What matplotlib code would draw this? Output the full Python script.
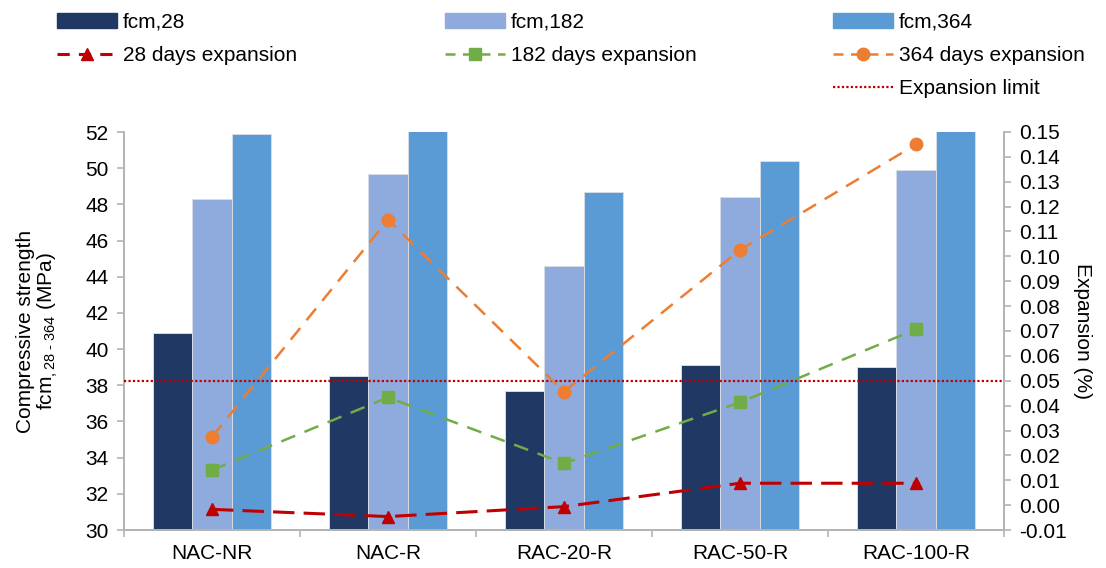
import matplotlib
matplotlib.use('Agg')
import matplotlib.pyplot as plt
from matplotlib.lines import Line2D
from matplotlib.patches import Patch
import numpy as np

plt.rcParams['font.family'] = ['Liberation Sans', 'DejaVu Sans']
plt.rcParams['mathtext.fontset'] = 'custom'
plt.rcParams['mathtext.rm'] = 'Liberation Sans'
plt.rcParams['mathtext.it'] = 'Liberation Sans'

# ---------------------------------------------------------------- data
mixes = ['NAC-NR', 'NAC-R', 'RAC-20-R', 'RAC-50-R', 'RAC-100-R']
fcm_28 = [40.9, 38.5, 37.7, 39.1, 39.0]
fcm_182 = [48.3, 49.7, 44.6, 48.4, 49.9]
fcm_364 = [51.9, 52.4, 48.7, 50.4, 52.6]
exp_28 = [-0.0017, -0.0046, -0.0006, 0.0088, 0.0088]
exp_182 = [0.0141, 0.0433, 0.0168, 0.0413, 0.0707]
exp_364 = [0.0275, 0.1147, 0.0456, 0.1026, 0.145]
exp_limit = 0.05

C28, C182, C364 = '#203864', '#8FAADC', '#5B9BD5'
CR, CG, CO = '#C00000', '#70AD47', '#ED7D31'
AXC = '#B4B4B4'
FS = 15

fig = plt.figure(figsize=(11.06, 5.68), dpi=100)
ax = fig.add_axes([124/1106, 1-530/568, 880/1106, 398/568])
ax2 = ax.twinx()

x = np.arange(len(mixes))
w = 0.222
ax.bar(x - w, fcm_28, w, color=C28, edgecolor='#D6DCE5', lw=0.7, zorder=2)
ax.bar(x, fcm_182, w, color=C182, edgecolor='#D6DCE5', lw=0.7, zorder=2)
ax.bar(x + w, fcm_364, w, color=C364, edgecolor='#D6DCE5', lw=0.7, zorder=2)

ax.set_ylim(30, 52)
ax.set_xlim(-0.5, len(mixes) - 0.5)
ax.set_yticks(np.arange(30, 53, 2))
ax.set_xticks(x)
ax.set_xticklabels(mixes)
ax.set_xticks(np.arange(-0.5, len(mixes)), minor=True)
ax.tick_params(axis='x', which='major', length=0, labelsize=FS, pad=10)
ax.tick_params(axis='x', which='minor', length=5, color=AXC, width=1.2)
ax.tick_params(axis='y', length=5, color=AXC, width=1.2, labelsize=FS, pad=6)
ax.set_ylabel('Compressive strength\nfcm$_{,28\\ \\text{-}\\ 364}$ (MPa)', fontsize=FS,
              labelpad=18, linespacing=1.05)

# expansion lines on right axis
ax2.axhline(exp_limit, color=CR, ls=(0, (1, 1)), lw=1.6, zorder=3)
ax2.plot(x, exp_28, color=CR, lw=2.2, dashes=(7, 3), marker='^', ms=9, zorder=4)
ax2.plot(x, exp_182, color=CG, lw=1.8, dashes=(6, 4), marker='s', ms=9, zorder=4)
ax2.plot(x, exp_364, color=CO, lw=1.8, dashes=(6, 4), marker='o', ms=9, zorder=4)
ax2.set_ylim(-0.01, 0.15)
ax2.set_yticks(np.arange(-0.01, 0.151, 0.01))
ax2.set_yticklabels([f'{v:.2f}' for v in np.arange(-0.01, 0.151, 0.01)])
ax2.tick_params(axis='y', length=5, color=AXC, width=1.2, labelsize=FS, pad=6)
ax2.set_ylabel('Expansion (%)', fontsize=FS, rotation=270, labelpad=18)

for a in (ax, ax2):
    a.spines['top'].set_visible(False)
    for s in ('left', 'right', 'bottom'):
        a.spines[s].set_color(AXC)
        a.spines[s].set_linewidth(1.3)

# legend: three columns placed by hand
h_28 = Patch(color=C28)
h_182 = Patch(color=C182)
h_364 = Patch(color=C364)
l_28 = Line2D([], [], color=CR, lw=2.2, dashes=(4, 3), marker='^', ms=9)
l_182 = Line2D([], [], color=CG, lw=1.8, dashes=(4, 3), marker='s', ms=9)
l_364 = Line2D([], [], color=CO, lw=1.8, dashes=(4, 3), marker='o', ms=9)
l_lim = Line2D([], [], color=CR, ls=(0, (1, 1)), lw=1.6)

cols = [
    (57, [h_28, l_28], ['fcm,28', '28 days expansion']),
    (445, [h_182, l_182], ['fcm,182', '182 days expansion']),
    (833, [h_364, l_364, l_lim], ['fcm,364', '364 days expansion', 'Expansion limit']),
]
for xpx, hs, ls in cols:
    fig.legend(hs, ls, loc='upper left', bbox_to_anchor=(xpx/1106, 1 - 13/568),
               frameon=False, fontsize=FS, borderpad=0, borderaxespad=0,
               handlelength=2.9, handleheight=0.7, handletextpad=0.25,
               labelspacing=0.68)

fig.savefig('out.png', dpi=100)
